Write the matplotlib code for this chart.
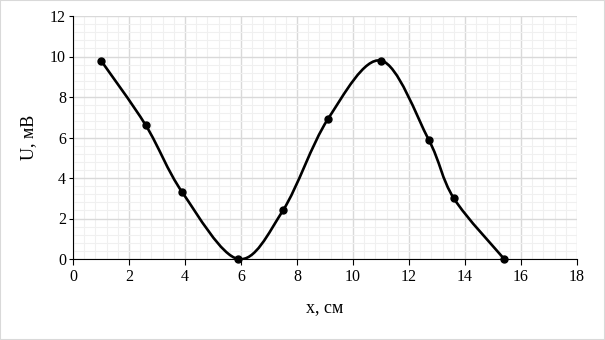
import numpy as np
import matplotlib.pyplot as plt
from matplotlib.path import Path
from matplotlib.patches import PathPatch, Rectangle
from matplotlib.ticker import MultipleLocator

x = [1.0, 2.6, 3.9, 5.9, 7.5, 9.1, 11.0, 12.7, 13.6, 15.4]
u = [9.8, 6.6, 3.3, 0.0, 2.4, 6.9, 9.8, 5.9, 3.0, 0.0]

plt.rcParams['font.family'] = ['Liberation Serif', 'DejaVu Serif']

fig = plt.figure(figsize=(6.05, 3.4), dpi=100)
ax = fig.add_axes([73/605, 1-259/340, 504/605, 243/340])

# smoothed line like Excel: cubic bezier segments, catmull-rom control points
px = np.array(x); py = np.array(u)
n = len(px)
verts = [(px[0], py[0])]
codes = [Path.MOVETO]
for i in range(n-1):
    p0 = np.array([px[max(i-1, 0)], py[max(i-1, 0)]])
    p1 = np.array([px[i], py[i]])
    p2 = np.array([px[i+1], py[i+1]])
    p3 = np.array([px[min(i+2, n-1)], py[min(i+2, n-1)]])
    c1 = p1 + (p2 - p0)/6
    c2 = p2 - (p3 - p1)/6
    verts += [tuple(c1), tuple(c2), tuple(p2)]
    codes += [Path.CURVE4]*3
ax.add_patch(PathPatch(Path(verts, codes), fill=False, lw=1.9, ec='black', zorder=3))
ax.plot(x, u, 'o', color='black', ms=5, zorder=4, clip_on=False)

ax.set_xlim(0, 18); ax.set_ylim(0, 12)
ax.xaxis.set_major_locator(MultipleLocator(2))
ax.yaxis.set_major_locator(MultipleLocator(2))
ax.xaxis.set_minor_locator(MultipleLocator(0.4))
ax.yaxis.set_minor_locator(MultipleLocator(0.4))
ax.grid(which='major', color='#d9d9d9', lw=1)
ax.grid(which='minor', color='#f0f0f0', lw=0.8)
ax.set_axisbelow(True)
for s in ['top', 'right']:
    ax.spines[s].set_visible(False)
ax.spines['left'].set_color('black'); ax.spines['bottom'].set_color('black')
ax.tick_params(which='major', length=4, labelsize=11.5, colors='black')
ax.tick_params(axis='y', which='major', length=3, pad=2)
ax.tick_params(which='minor', length=0)
ax.set_xlabel('x, см', fontsize=13, labelpad=10)
ax.set_ylabel('U, мВ', fontsize=13, labelpad=9)

fig.patches.append(Rectangle((0, 0), 1, 1, transform=fig.transFigure, fill=False,
                             ec='#d9d9d9', lw=1.5))
fig.savefig('out.png', dpi=100)
